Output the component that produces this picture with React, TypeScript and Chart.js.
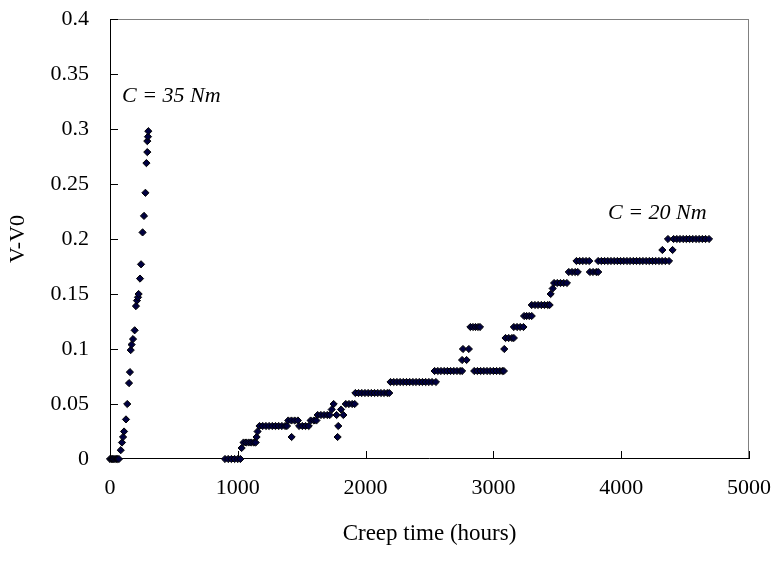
import React, { useEffect, useRef } from "react";
import { Chart, registerables } from "chart.js";

Chart.register(...registerables);

// Creep test at C = 35 Nm
const hours35 = [0, 10, 20, 30, 40, 50, 60, 70, 84, 94, 102, 110, 125, 135, 149, 156, 162, 169, 180, 193, 203, 211, 219, 224, 235, 243, 255, 266, 277, 285, 292, 292, 297, 300];
const values35 = [0, 0, 0, 0, 0, 0, 0, 0, 0.008, 0.015, 0.02, 0.025, 0.036, 0.05, 0.069, 0.079, 0.099, 0.104, 0.109, 0.117, 0.139, 0.144, 0.147, 0.15, 0.164, 0.177, 0.206, 0.221, 0.242, 0.269, 0.279, 0.289, 0.293, 0.298];

// Creep test at C = 20 Nm
const hours20 = [
  900, 925, 950, 975, 1000, 1020, 1030,
  1045, 1065, 1085, 1105, 1125, 1140, 1147, 1155,
  1170, 1195, 1220, 1245, 1270, 1295, 1320, 1345, 1370, 1385,
  1395, 1420, 1445, 1470, 1421,
  1480, 1505, 1530, 1555,
  1570, 1595, 1615,
  1625, 1650, 1675, 1700, 1720,
  1735, 1750, 1773, 1786, 1781, 1808, 1826,
  1845, 1870, 1895, 1915,
  1920, 1945, 1970, 1995, 2020, 2045, 2070, 2095, 2120, 2145, 2170, 2185,
  2195, 2220, 2245, 2270, 2295, 2320, 2345, 2370, 2395, 2420, 2445, 2470, 2495, 2520, 2550,
  2540, 2565, 2590, 2615, 2640, 2665, 2690, 2715, 2740, 2755,
  2755, 2790, 2762, 2808,
  2820, 2840, 2860, 2880, 2895,
  2850, 2875, 2900, 2925, 2950, 2975, 3000, 3025, 3050, 3070, 3082,
  3085,
  3095, 3120, 3145, 3160,
  3160, 3185, 3210, 3235,
  3240, 3260, 3280, 3300,
  3300, 3325, 3350, 3375, 3400, 3425, 3440,
  3448, 3464,
  3475, 3500, 3525, 3550, 3575,
  3590, 3615, 3640, 3660,
  3650, 3675, 3700, 3725, 3750,
  3755, 3780, 3805, 3820,
  3820, 3845, 3870, 3895, 3920, 3945, 3970, 3995, 4020, 4045, 4070, 4095, 4120, 4145, 4170, 4195, 4220, 4245, 4270, 4295, 4320, 4345, 4374,
  4322, 4402, 4366,
  4410, 4435, 4460, 4485, 4510, 4535, 4560, 4585, 4610, 4635, 4660, 4687,
];
const values20 = [
  0, 0, 0, 0, 0, 0, 0.01,
  0.015, 0.015, 0.015, 0.015, 0.015, 0.015, 0.02, 0.025,
  0.03, 0.03, 0.03, 0.03, 0.03, 0.03, 0.03, 0.03, 0.03, 0.03,
  0.035, 0.035, 0.035, 0.035, 0.02,
  0.03, 0.03, 0.03, 0.03,
  0.035, 0.035, 0.035,
  0.04, 0.04, 0.04, 0.04, 0.04,
  0.045, 0.05, 0.04, 0.03, 0.02, 0.045, 0.04,
  0.05, 0.05, 0.05, 0.05,
  0.06, 0.06, 0.06, 0.06, 0.06, 0.06, 0.06, 0.06, 0.06, 0.06, 0.06, 0.06,
  0.07, 0.07, 0.07, 0.07, 0.07, 0.07, 0.07, 0.07, 0.07, 0.07, 0.07, 0.07, 0.07, 0.07, 0.07,
  0.08, 0.08, 0.08, 0.08, 0.08, 0.08, 0.08, 0.08, 0.08, 0.08,
  0.09, 0.09, 0.1, 0.1,
  0.12, 0.12, 0.12, 0.12, 0.12,
  0.08, 0.08, 0.08, 0.08, 0.08, 0.08, 0.08, 0.08, 0.08, 0.08, 0.08,
  0.1,
  0.11, 0.11, 0.11, 0.11,
  0.12, 0.12, 0.12, 0.12,
  0.13, 0.13, 0.13, 0.13,
  0.14, 0.14, 0.14, 0.14, 0.14, 0.14, 0.14,
  0.15, 0.155,
  0.16, 0.16, 0.16, 0.16, 0.16,
  0.17, 0.17, 0.17, 0.17,
  0.18, 0.18, 0.18, 0.18, 0.18,
  0.17, 0.17, 0.17, 0.17,
  0.18, 0.18, 0.18, 0.18, 0.18, 0.18, 0.18, 0.18, 0.18, 0.18, 0.18, 0.18, 0.18, 0.18, 0.18, 0.18, 0.18, 0.18, 0.18, 0.18, 0.18, 0.18, 0.18,
  0.19, 0.19, 0.2,
  0.2, 0.2, 0.2, 0.2, 0.2, 0.2, 0.2, 0.2, 0.2, 0.2, 0.2, 0.2,
];

const xTickLabels = ["0", "1000", "2000", "3000", "4000", "5000"];
const yTickLabels = ["0", "0.05", "0.1", "0.15", "0.2", "0.25", "0.3", "0.35", "0.4"];

const annotations = [
  { text: "C = 35 Nm", x: 94, y: 0.33 },
  { text: "C = 20 Nm", x: 3897, y: 0.2235 },
];

const FONT = "'Liberation Serif', 'Times New Roman', serif";

const framePlugin = {
  id: "frame",
  beforeDatasetsDraw(chart: any) {
    const { ctx, chartArea } = chart;
    const { left, right, top, bottom } = chartArea;
    const xs = chart.scales.x;
    const ys = chart.scales.y;
    ctx.save();
    ctx.lineWidth = 1;
    ctx.strokeStyle = "#808080";
    ctx.beginPath();
    ctx.moveTo(left, top + 0.5);
    ctx.lineTo(right, top + 0.5);
    ctx.moveTo(right - 0.5, top);
    ctx.lineTo(right - 0.5, bottom);
    ctx.stroke();
    ctx.strokeStyle = "#000";
    ctx.beginPath();
    ctx.moveTo(left + 0.5, top);
    ctx.lineTo(left + 0.5, bottom);
    ctx.moveTo(left, bottom - 0.5);
    ctx.lineTo(right, bottom - 0.5);
    xs.ticks.forEach((t: any) => {
      const px = Math.round(xs.getPixelForValue(t.value)) + 0.5;
      ctx.moveTo(px, bottom);
      ctx.lineTo(px, bottom - 8);
    });
    ys.ticks.forEach((t: any) => {
      const py = Math.round(ys.getPixelForValue(t.value)) + 0.5;
      ctx.moveTo(left, py);
      ctx.lineTo(left + 8, py);
    });
    ctx.stroke();
    ctx.restore();
  },
  afterDraw(chart: any) {
    const { ctx } = chart;
    const xs = chart.scales.x;
    const ys = chart.scales.y;
    ctx.save();
    ctx.fillStyle = "#000";
    ctx.font = `italic 22px ${FONT}`;
    ctx.textAlign = "left";
    ctx.textBaseline = "middle";
    annotations.forEach((a) => {
      ctx.fillText(a.text, xs.getPixelForValue(a.x), ys.getPixelForValue(a.y));
    });
    ctx.restore();
  },
};

export default function App() {
  const ref = useRef<HTMLCanvasElement | null>(null);
  useEffect(() => {
    if (!ref.current) return;
    const pointStyle = {
      pointStyle: "rectRot" as const,
      pointRadius: 3.6,
      pointBackgroundColor: "#000040",
      pointBorderColor: "#000",
      pointBorderWidth: 1,
      showLine: false,
      clip: false as const,
    };
    const chart = new Chart(ref.current, {
      type: "scatter",
      data: {
        datasets: [
          { label: "C = 35 Nm", data: hours35.map((h, i) => ({ x: h, y: values35[i] })), ...pointStyle },
          { label: "C = 20 Nm", data: hours20.map((h, i) => ({ x: h, y: values20[i] })), ...pointStyle },
        ],
      },
      options: {
        animation: false,
        responsive: false,
        devicePixelRatio: 1,
        layout: { padding: { top: 19, right: 22, left: 0, bottom: 0 } },
        plugins: { legend: { display: false }, tooltip: { enabled: false } },
        scales: {
          x: {
            type: "linear",
            min: 0,
            max: 5000,
            grid: { display: false },
            border: { display: false },
            ticks: {
              stepSize: 1000,
              padding: 8,
              color: "#000",
              font: { family: FONT, size: 22 },
              maxRotation: 0,
              callback: (_v: any, i: number) => xTickLabels[i],
            },
            title: {
              display: true,
              text: "Creep time (hours)",
              color: "#000",
              font: { family: FONT, size: 23 },
              padding: { top: 0, bottom: 16 },
            },
            afterFit: (s: any) => {
              s.height = 105;
              s.paddingLeft = 0;
              s.paddingRight = 0;
            },
          },
          y: {
            type: "linear",
            min: 0,
            max: 0.4,
            grid: { display: false },
            border: { display: false },
            ticks: {
              stepSize: 0.05,
              padding: 13,
              color: "#000",
              font: { family: FONT, size: 22 },
              callback: (_v: any, i: number) => yTickLabels[i],
            },
            title: {
              display: true,
              text: "V-V0",
              color: "#000",
              font: { family: FONT, size: 22 },
              padding: { top: 5, bottom: 0 },
            },
            afterFit: (s: any) => {
              s.width = 110;
              s.paddingTop = 0;
              s.paddingBottom = 0;
            },
          },
        },
      },
      plugins: [framePlugin],
    });
    return () => chart.destroy();
  }, []);
  return (
    <div style={{ position: "fixed", left: 0, top: 0, width: 771, height: 564, background: "#fff" }}>
      <canvas ref={ref} width={771} height={564} />
    </div>
  );
}
